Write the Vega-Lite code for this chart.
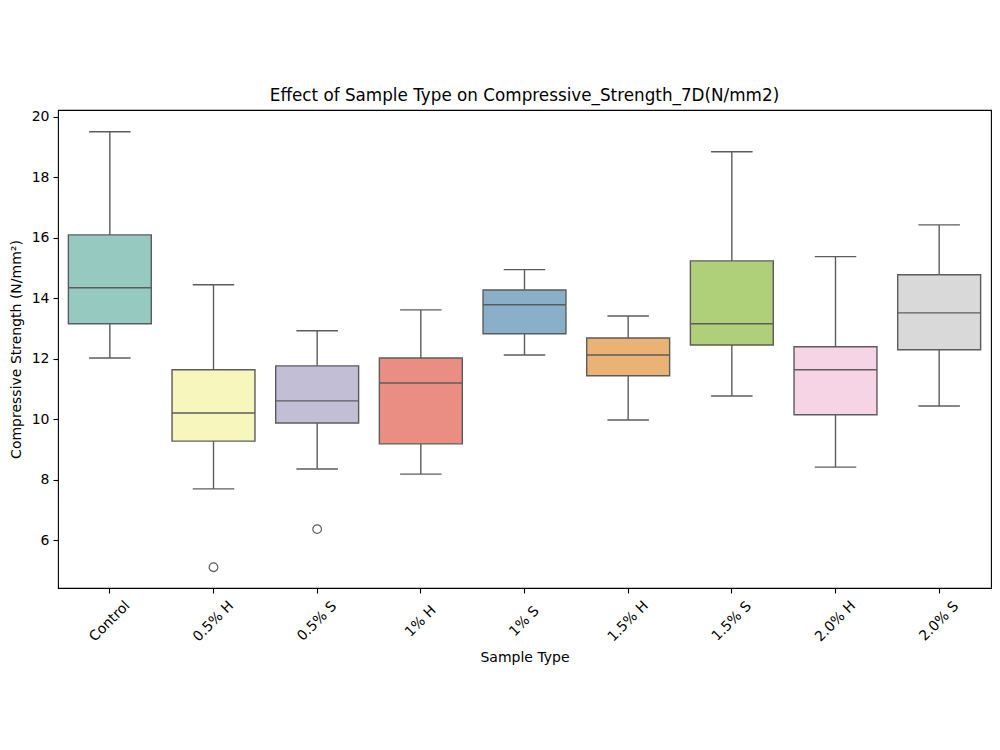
{
  "$schema": "https://vega.github.io/schema/vega-lite/v6.json",
  "width": 933,
  "height": 478,
  "autosize": "none",
  "padding": {"left": 58, "top": 110, "right": 9, "bottom": 162},
  "title": {
    "text": "Effect of Sample Type on Compressive_Strength_7D(N/mm2)",
    "font": "DejaVu Sans",
    "fontSize": 16.8,
    "fontWeight": "normal",
    "color": "#000000",
    "anchor": "middle",
    "offset": 5
  },
  "datasets": {
    "boxes": [
      {"sample": "Control", "lower": 12.02, "q1": 13.15, "median": 14.34, "q3": 16.09, "upper": 19.50},
      {"sample": "0.5% H", "lower": 7.69, "q1": 9.27, "median": 10.20, "q3": 11.63, "upper": 14.44},
      {"sample": "0.5% S", "lower": 8.35, "q1": 9.87, "median": 10.60, "q3": 11.76, "upper": 12.92},
      {"sample": "1% H", "lower": 8.18, "q1": 9.18, "median": 11.19, "q3": 12.02, "upper": 13.61},
      {"sample": "1% S", "lower": 12.12, "q1": 12.82, "median": 13.78, "q3": 14.27, "upper": 14.94},
      {"sample": "1.5% H", "lower": 9.97, "q1": 11.43, "median": 12.12, "q3": 12.68, "upper": 13.41},
      {"sample": "1.5% S", "lower": 10.76, "q1": 12.45, "median": 13.15, "q3": 15.23, "upper": 18.84},
      {"sample": "2.0% H", "lower": 8.41, "q1": 10.14, "median": 11.63, "q3": 12.39, "upper": 15.37},
      {"sample": "2.0% S", "lower": 10.43, "q1": 12.29, "median": 13.51, "q3": 14.77, "upper": 16.42}
    ],
    "outliers": [
      {"sample": "0.5% H", "value": 5.10},
      {"sample": "0.5% S", "value": 6.36}
    ]
  },
  "data": {"name": "boxes"},
  "encoding": {
    "x": {
      "field": "sample",
      "type": "nominal",
      "sort": ["Control", "0.5% H", "0.5% S", "1% H", "1% S", "1.5% H", "1.5% S", "2.0% H", "2.0% S"],
      "scale": {"paddingInner": 0.2, "paddingOuter": 0.1},
      "axis": {
        "title": "Sample Type",
        "labelAngle": -45,
        "labelAlign": "center",
        "labelBaseline": "middle",
        "labelPadding": 28,
        "titlePadding": 7
      }
    }
  },
  "layer": [
    {
      "mark": {"type": "rule", "color": "#5c5c5c", "strokeWidth": 1.4},
      "encoding": {
        "y": {
          "field": "lower",
          "type": "quantitative",
          "scale": {"domain": [4.413, 20.22], "nice": false, "zero": false},
          "axis": {
            "title": "Compressive Strength (N/mm²)",
            "values": [6, 8, 10, 12, 14, 16, 18, 20],
            "titlePadding": 8
          }
        },
        "y2": {"field": "q1"}
      }
    },
    {
      "mark": {"type": "rule", "color": "#5c5c5c", "strokeWidth": 1.4},
      "encoding": {
        "y": {"field": "q3", "type": "quantitative"},
        "y2": {"field": "upper"}
      }
    },
    {
      "mark": {"type": "tick", "color": "#5c5c5c", "size": 41.5, "thickness": 1.4, "opacity": 1},
      "encoding": {"y": {"field": "lower", "type": "quantitative"}}
    },
    {
      "mark": {"type": "tick", "color": "#5c5c5c", "size": 41.5, "thickness": 1.4, "opacity": 1},
      "encoding": {"y": {"field": "upper", "type": "quantitative"}}
    },
    {
      "mark": {"type": "bar", "stroke": "#5c5c5c", "strokeWidth": 1.4, "opacity": 1},
      "encoding": {
        "y": {"field": "q1", "type": "quantitative"},
        "y2": {"field": "q3"},
        "fill": {
          "field": "sample",
          "type": "nominal",
          "legend": null,
          "scale": {
            "domain": ["Control", "0.5% H", "0.5% S", "1% H", "1% S", "1.5% H", "1.5% S", "2.0% H", "2.0% S"],
            "range": ["#96cac1", "#f6f6bd", "#c1bed6", "#ea8e83", "#8aafc9", "#eab375", "#afcf78", "#f6d3e5", "#d9d9d9"]
          }
        }
      }
    },
    {
      "mark": {"type": "tick", "color": "#5c5c5c", "size": 83, "thickness": 1.4, "opacity": 1},
      "encoding": {"y": {"field": "median", "type": "quantitative"}}
    },
    {
      "data": {"name": "outliers"},
      "mark": {"type": "point", "shape": "circle", "filled": false, "stroke": "#5c5c5c", "strokeWidth": 1.2, "size": 75, "opacity": 1},
      "encoding": {"y": {"field": "value", "type": "quantitative"}}
    }
  ],
  "config": {
    "font": "DejaVu Sans",
    "view": {"stroke": "#000000", "strokeWidth": 1.1},
    "axis": {
      "grid": false,
      "domain": false,
      "labelFont": "DejaVu Sans",
      "labelFontSize": 14,
      "labelColor": "#000000",
      "titleFont": "DejaVu Sans",
      "titleFontSize": 14,
      "titleFontWeight": "normal",
      "titleColor": "#000000",
      "tickColor": "#000000",
      "tickSize": 5,
      "tickWidth": 1.1,
      "labelOverlap": false,
      "labelFlush": false
    },
    "axisY": {"labelPadding": 4}
  }
}
